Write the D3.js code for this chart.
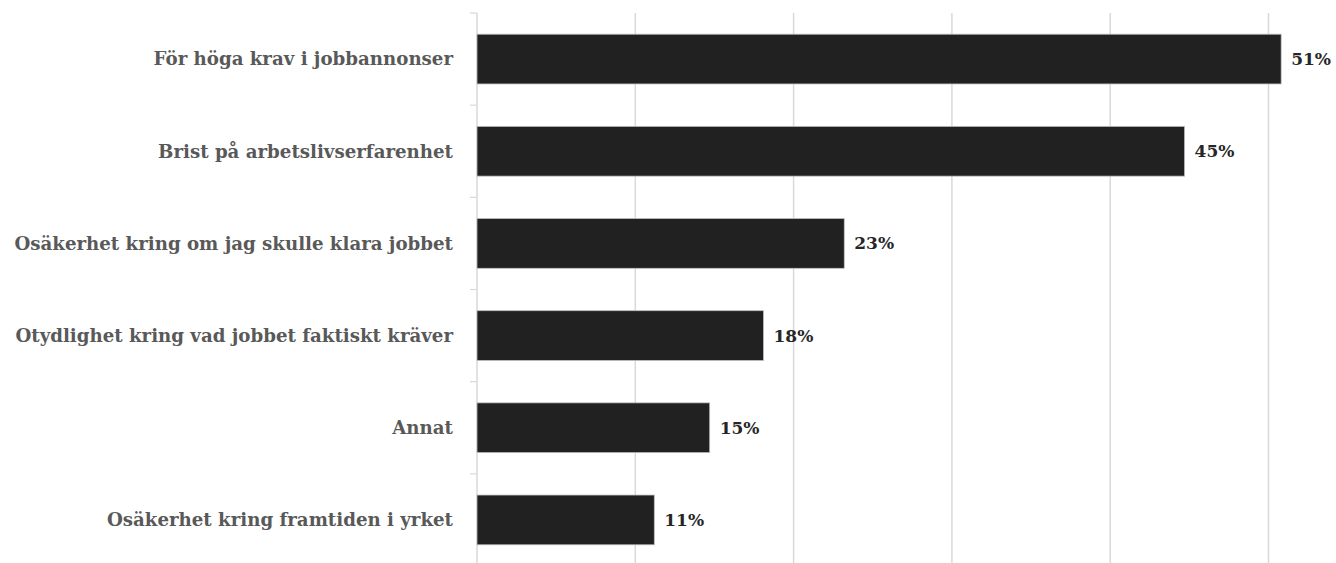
<!DOCTYPE html>
<html><head><meta charset="utf-8">
<script src="https://cdn.jsdelivr.net/npm/d3@7"></script>
<style>html,body{margin:0;padding:0;background:#fff;}</style>
</head><body>
<svg id="chart" width="1336" height="563"></svg>
<script>
const categories = [
  "För höga krav i jobbannonser",
  "Brist på arbetslivserfarenhet",
  "Osäkerhet kring om jag skulle klara jobbet",
  "Otydlighet kring vad jobbet faktiskt kräver",
  "Annat",
  "Osäkerhet kring framtiden i yrket"
];
const values = [50.8, 44.7, 23.2, 18.1, 14.7, 11.2];
const valueLabels = ["51%", "45%", "23%", "18%", "15%", "11%"];
const tickValues = [0, 10, 20, 30, 40, 50];

const svg = d3.select("#chart");
const x = d3.scaleLinear().domain([0, 50]).range([477, 1268.5]);
const y = d3.scaleBand().domain(categories).range([13, 566]).paddingInner(0.46).paddingOuter(0.23);

// gridlines
svg.append("g").selectAll("line").data(tickValues.slice(1)).join("line")
  .attr("x1", d => x(d)).attr("x2", d => x(d))
  .attr("y1", 13).attr("y2", 566)
  .attr("stroke", "#d9d9d9").attr("stroke-width", 1.5);

// axis line
svg.append("line").attr("x1", x(0)).attr("x2", x(0)).attr("y1", 13).attr("y2", 566)
  .attr("stroke", "#d9d9d9").attr("stroke-width", 1.5);

// category boundary ticks
const bounds = d3.range(categories.length + 1).map(i => 13 + i * (553 / categories.length));
svg.append("g").selectAll("line").data(bounds).join("line")
  .attr("x1", x(0) - 7).attr("x2", x(0))
  .attr("y1", d => d).attr("y2", d => d)
  .attr("stroke", "#d9d9d9").attr("stroke-width", 1.2);

// bars
svg.append("g").selectAll("rect").data(categories).join("rect")
  .attr("x", x(0)).attr("y", d => y(d))
  .attr("width", (d, i) => x(values[i]) - x(0))
  .attr("height", y.bandwidth())
  .attr("fill", "#212121").attr("stroke", "#bfbfbf").attr("stroke-width", 0.8);

// category labels
svg.append("g").selectAll("text").data(categories).join("text")
  .attr("x", 453).attr("y", d => y(d) + y.bandwidth() / 2)
  .attr("dy", "0.35em").attr("text-anchor", "end")
  .attr("font-family", "'DejaVu Serif', serif").attr("font-weight", "bold")
  .attr("font-size", "18.2px").attr("fill", "#595959")
  .text(d => d);

// value labels
svg.append("g").selectAll("text").data(categories).join("text")
  .attr("x", (d, i) => x(values[i]) + 10).attr("y", d => y(d) + y.bandwidth() / 2)
  .attr("dy", "0.35em").attr("text-anchor", "start")
  .attr("font-family", "'DejaVu Serif', serif").attr("font-weight", "bold")
  .attr("font-size", "17px").attr("fill", "#262626")
  .text((d, i) => valueLabels[i]);
</script>
</body></html>
